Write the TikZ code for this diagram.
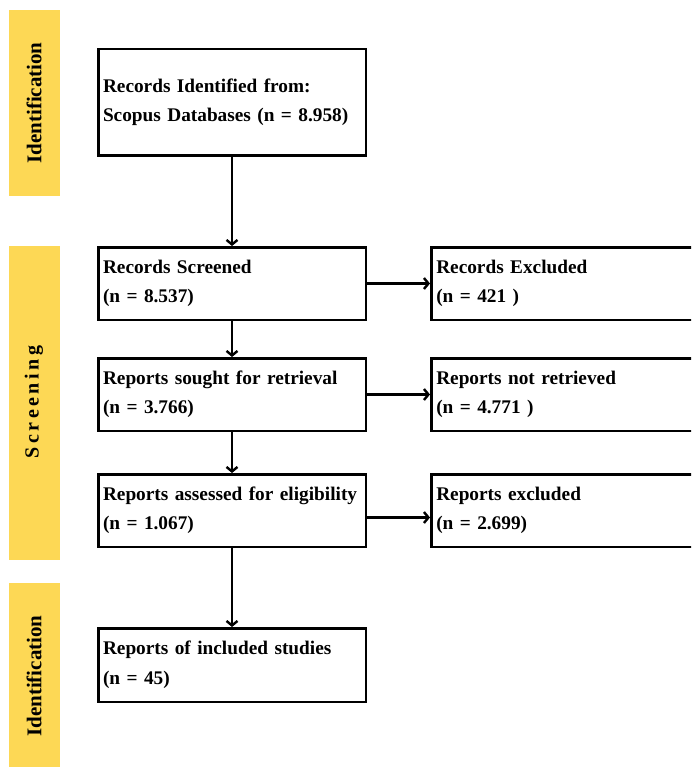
\documentclass[tikz,border=0pt]{standalone}
\usepackage{fontspec}
\setmainfont{Liberation Serif}
\usetikzlibrary{arrows.meta}
\definecolor{bandyellow}{HTML}{FDD855}
\tikzset{
  box/.style={draw, line width=2.5pt, inner xsep=4.75pt, inner ysep=0pt,
    align=left, anchor=north west, minimum width=267.5pt,
    text width=258pt, font=\bfseries\fontsize{19.3}{29.5}\selectfont},
  rbox/.style={box, minimum width=400pt, text width=390pt},
  stage/.style={rotate=90, font=\bfseries\fontsize{21}{24}\selectfont},
  flow/.style={line width=2.4pt, -{Straight Barb[length=4.5pt,width=11pt]}},
}
\newcommand\lsp{\kern3.5pt}
\begin{document}
\begin{tikzpicture}[x=1pt,y=-1pt]
\useasboundingbox (0,0) rectangle (691,767);
\clip (0,0) rectangle (691,767);
% stage bands
\fill[bandyellow] (9,10) rectangle (60,196);
\fill[bandyellow] (9,246) rectangle (60,560);
\fill[bandyellow] (9,583) rectangle (60,772);
\node[stage] (s1) at (34,103) {Identification};
\node[stage, font=\bfseries\fontsize{20}{22}\selectfont] (s2) at (34,402) {S\lsp c\lsp r\lsp e\lsp e\lsp n\lsp i\lsp n\lsp g};
\node[stage] (s3) at (34,676) {Identification};
% main boxes
\node[box, minimum height=106.5pt] (b1) at (97,48) {\mbox{Records Identified from:}\\\mbox{Scopus Databases (n = 8.958)}};
\node[box, minimum height=72.5pt] (b2) at (97,246) {Records Screened\\(n = 8.537)};
\node[box, minimum height=72.5pt] (b3) at (97,357) {\mbox{Reports sought for retrieval}\\(n = 3.766)};
\node[box, minimum height=72.5pt] (b4) at (97,473) {\mbox{Reports assessed for eligibility}\\(n = 1.067)};
\node[box, minimum height=73.5pt] (b5) at (97,627) {\mbox{Reports of included studies}\\(n = 45)};
% right boxes
\node[rbox, minimum height=72.5pt] (r2) at (430,246) {Records Excluded\\(n = 421 )};
\node[rbox, minimum height=72.5pt] (r3) at (430,357) {Reports not retrieved\\(n = 4.771 )};
\node[rbox, minimum height=72.5pt] (r4) at (430,473) {Reports excluded\\(n = 2.699)};
% connectors
\draw[flow] (b1.south) -- (b2.north);
\draw[flow] (b2.south) -- (b3.north);
\draw[flow] (b3.south) -- (b4.north);
\draw[flow] (b4.south) -- (b5.north);
\draw[flow] (b2.east) -- (r2.west);
\draw[flow] (b3.east) -- (r3.west);
\draw[flow] ([yshift=-7pt]b4.east) -- ([yshift=-7pt]r4.west);
\end{tikzpicture}
\end{document}
